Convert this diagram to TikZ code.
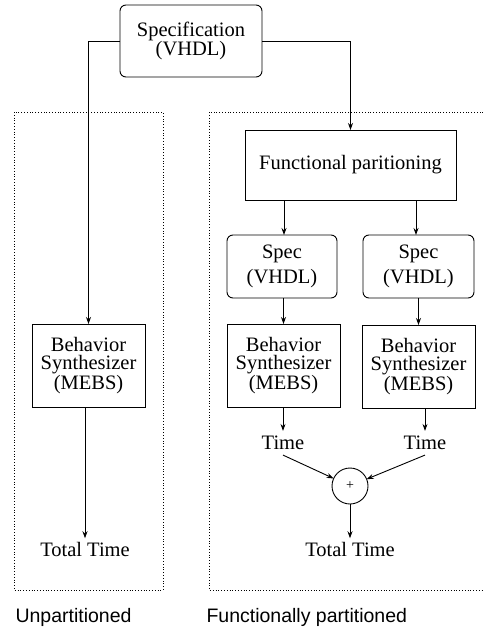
\documentclass[tikz,border=0pt]{standalone}
\usepackage{fontspec}
\setmainfont{Liberation Serif}
\setsansfont{Liberation Sans}
\usetikzlibrary{arrows.meta,positioning}
\tikzset{
  pf text/.style={font=\fontsize{20.5}{17.5}\selectfont},
  pf box/.style={draw, line width=0.9pt, align=center, outer sep=0pt, inner sep=2pt},
  pf round/.style={pf box, rounded corners=6pt},
  pf arrow/.style={-{Stealth[length=7pt,width=5pt]}, line width=0.9pt},
  pf dots/.style={draw, line width=0.8pt, dotted},
  pf label/.style={font=\sffamily\fontsize{19.5}{20}\selectfont, anchor=west},
  pf sum/.style={draw, circle, line width=0.9pt, minimum size=36pt, inner sep=0pt,
    outer sep=0pt, font=\fontsize{14}{14}\selectfont}
}
\begin{document}
\begin{tikzpicture}[pf text, x=1pt, y=-1pt]
  \useasboundingbox (0,0) rectangle (482,629);

  % the two areas
  \draw[pf dots] (14,112) rectangle (163,590);
  \draw[pf dots] (500,112) -- (209,112) -- (209,590) -- (500,590);

  \node[pf round, minimum width=142pt, minimum height=72pt] (spec) at (191,41) {Specification\\(VHDL)};

  % unpartitioned
  \node[pf box, minimum width=113pt, minimum height=83pt] (behLeft) at (88.5,365.5) {Behavior\\Synthesizer\\(MEBS)};
  \node (totLeft) at (85,549) {Total Time};
  \draw[pf arrow] (spec.west) -| (behLeft.north);
  \draw[pf arrow] (behLeft.south -| totLeft) -- (totLeft.north);

  % functionally partitioned
  \node[pf box, minimum width=211pt, minimum height=70pt] (func) at (350.5,165) {Functional paritioning};
  \node[pf round, minimum width=110pt, minimum height=63pt] (specA) at (282,266.5) {Spec\\[6pt](VHDL)};
  \node[pf round, minimum width=111pt, minimum height=63pt] (specB) at (418.5,266.5) {Spec\\[6pt](VHDL)};
  \node[pf box, minimum width=113pt, minimum height=83pt] (behA) at (283.5,365.5) {Behavior\\Synthesizer\\(MEBS)};
  \node[pf box, minimum width=113pt, minimum height=83pt] (behB) at (418.5,366.5) {Behavior\\Synthesizer\\(MEBS)};
  \node[inner sep=5pt] (timeA) at (283,443) {Time};
  \node[inner sep=5pt] (timeB) at (425,443) {Time};
  \node[pf sum] (plus) at (350,486) {+};
  \node (totRight) at (350,549) {Total Time};

  \draw[pf arrow] (spec.east) -| (func.north);
  \draw[pf arrow] (func.south -| 284,0) -- (284,235);
  \draw[pf arrow] (func.south -| 416,0) -- (416,235);
  \draw[pf arrow] (specA.south -| behA) -- (behA.north);
  \draw[pf arrow] (specB.south -| behB) -- (behB.north);
  \draw[pf arrow] (behA.south -| timeA) -- (timeA.north);
  \draw[pf arrow] (behB.south -| timeB) -- (timeB.north);
  \draw[pf arrow] (timeA.south) -- (plus);
  \draw[pf arrow] (timeB.south) -- (plus);
  \draw[pf arrow] (plus.south) -- (totRight.north);

  \node[pf label] (lblLeft) at (12,617) {Unpartitioned};
  \node[pf label] (lblRight) at (203,617) {Functionally partitioned};
\end{tikzpicture}
\end{document}
